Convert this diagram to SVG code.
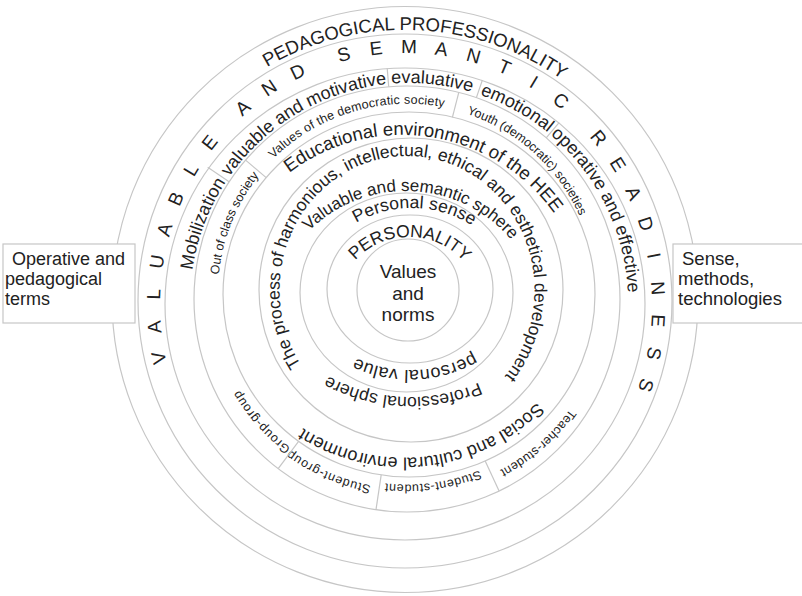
<svg xmlns="http://www.w3.org/2000/svg" width="802" height="596" viewBox="0 0 802 596">
<style>
.c{fill:none;stroke:#c6c6c6;stroke-width:1.2}
.d{stroke:#c6c6c6;stroke-width:1.2}
.t{font-family:"Liberation Sans",Arial,sans-serif;fill:#222}
.s{font-size:12.5px}
.r7{font-size:18px}
.box{fill:#fff;stroke:#c6c6c6;stroke-width:1.2}
</style>
<defs>
<path id="p1" d="M408.06 380.99 A72 72 0 1 1 409.94 237.01 A72 72 0 1 1 408.06 380.99"/>
<path id="p2" d="M409.5 427.97 A110 110 0 1 1 414.5 208.03 A110 110 0 1 1 409.5 427.97"/>
<path id="p3" d="M405.09 114.09 A128 128 0 1 1 414.91 369.91 A128 128 0 1 1 405.09 114.09"/>
<path id="p4" d="M399.98 466.87 A138 138 0 1 1 412.02 191.13 A138 138 0 1 1 399.98 466.87"/>
<path id="p5" d="M417.46 55.16 A171 171 0 1 1 402.54 396.84 A171 171 0 1 1 417.46 55.16"/>
<path id="p6" d="M399.91 423.79 A127 134 0 1 1 414.09 156.21 A127 134 0 1 1 399.91 423.79"/>
<path id="p7" d="M373.71 506.85 A187 187 0 1 1 430.29 137.15 A187 187 0 1 1 373.71 506.85"/>
<path id="p8" d="M383.41 83.53 A187.6 187.6 0 1 1 424.59 456.47 A187.6 187.6 0 1 1 383.41 83.53"/>
<path id="p9" d="M582.24 363.8 A189 189 0 1 1 231.76 222.2 A189 189 0 1 1 582.24 363.8"/>
<path id="p10" d="M461.63 473.93 A189 189 0 1 1 352.37 112.07 A189 189 0 1 1 461.63 473.93"/>
<path id="p11" d="M280.06 433.03 A189 189 0 1 1 533.94 152.97 A189 189 0 1 1 280.06 433.03"/>
<path id="p12" d="M551.92 164.78 A193.5 193.5 0 1 1 262.08 421.22 A193.5 193.5 0 1 1 551.92 164.78"/>
<path id="p13" d="M485.58 113.99 A195.5 195.5 0 1 1 328.42 472.01 A195.5 195.5 0 1 1 485.58 113.99"/>
<path id="p14" d="M381.01 103.27 A191.5 191.5 0 1 1 432.99 482.73 A191.5 191.5 0 1 1 381.01 103.27"/>
<path id="p15" d="M275.52 142.29 A200 200 0 1 1 538.48 443.71 A200 200 0 1 1 275.52 142.29"/>
<path id="p16" d="M613.73 379.77 A219 219 0 1 1 204.27 224.23 A219 219 0 1 1 613.73 379.77"/>
<path id="p17" d="M520.15 490.7 A219 219 0 1 1 297.85 113.3 A219 219 0 1 1 520.15 490.7"/>
<path id="p18" d="M386.11 519.8 A219 219 0 1 1 431.89 84.2 A219 219 0 1 1 386.11 519.8"/>
<path id="p19" d="M302.5 493.36 A219 219 0 1 1 515.5 110.64 A219 219 0 1 1 302.5 493.36"/>
<path id="p20" d="M212.33 398.35 A219 219 0 1 1 605.67 205.65 A219 219 0 1 1 212.33 398.35"/>
<path id="p21" d="M392.27 556.61 A246 252 0 1 1 419.73 53.39 A246 252 0 1 1 392.27 556.61"/>
<path id="p22" d="M393.69 569.76 A270 270 0 1 1 416.31 30.24 A270 270 0 1 1 393.69 569.76"/>
</defs>

<g id="ring9-pedagogical-professionality">
<circle class="c" cx="405" cy="299.5" r="293"/>
<text class="t" font-size="18.5" text-anchor="middle"><textPath href="#p22" startOffset="50%">PEDAGOGICAL PROFESSIONALITY</textPath></text>
</g>
<g id="ring8-readiness">
<circle class="c" cx="405" cy="301" r="267"/>
<text class="t" font-size="19" text-anchor="middle" dx="0 19.33 20.39 19.86 18.81 19.33 20.39 20.39 0 30.05 18.81 18.28 0 29.53 19.33 17.75 17.75 18.81 19.34 23.56 22.5 0 32.5 18.81 19.33 18.81 22.5 22.5 18.81 19.33 19.33"><textPath href="#p21" startOffset="50%">VALUABLE AND SEMANTIC READINESS</textPath></text>
</g>
<g id="ring7-components">
<ellipse class="c" cx="405" cy="304" rx="240" ry="236"/>
<text class="t r7" text-anchor="middle"><textPath href="#p16" startOffset="50%">Mobilization</textPath></text>
<text class="t r7" text-anchor="middle"><textPath href="#p17" startOffset="50%">valuable and motivative</textPath></text>
<text class="t r7" text-anchor="middle"><textPath href="#p18" startOffset="50%">evaluative</textPath></text>
<text class="t r7" text-anchor="middle"><textPath href="#p19" startOffset="50%">emotional</textPath></text>
<text class="t r7" text-anchor="middle"><textPath href="#p20" startOffset="50%">operative and effective</textPath></text>
</g>
<g id="ring6-societies">
<circle class="c" cx="407" cy="299" r="213"/>
<text class="t s" text-anchor="middle"><textPath href="#p9" startOffset="50%">Out of class society</textPath></text>
<text class="t s" text-anchor="middle" letter-spacing="0.2"><textPath href="#p10" startOffset="50%">Values of the democratic society</textPath></text>
<text class="t s" text-anchor="middle"><textPath href="#p11" startOffset="50%">Youth (democratic) societies</textPath></text>
<text class="t s" text-anchor="middle" letter-spacing="0.7"><textPath href="#p12" startOffset="50%">Group-group</textPath></text>
<text class="t s" text-anchor="middle" letter-spacing="0.8"><textPath href="#p13" startOffset="50%">Student-group</textPath></text>
<text class="t s" text-anchor="middle" letter-spacing="0.55"><textPath href="#p14" startOffset="50%">Student-student</textPath></text>
<text class="t s" text-anchor="middle" letter-spacing="0.3"><textPath href="#p15" startOffset="50%">Teacher-student</textPath></text>
</g>
<g id="ring5-environment">
<ellipse class="c" cx="409" cy="294.5" rx="186" ry="182.5"/>
<text class="t" font-size="18.5" text-anchor="middle"><textPath href="#p7" startOffset="50%">Educational environment of the HEE</textPath></text>
<text class="t" font-size="18" text-anchor="middle" letter-spacing="0.1"><textPath href="#p8" startOffset="50%">Social and cultural environment</textPath></text>
</g>
<g id="ring4-sphere">
<circle class="c" cx="411" cy="290" r="152"/>
<text class="t" font-size="17.5" text-anchor="middle"><textPath href="#p6" startOffset="50%">The process of harmonious, intellectual, ethical and esthetical development</textPath></text>
<text class="t" font-size="17" text-anchor="middle"><textPath href="#p4" startOffset="50%">Valuable and semantic sphere</textPath></text>
<text class="t" font-size="17.5" text-anchor="middle" letter-spacing="0.1"><textPath href="#p5" startOffset="50%">Professional sphere</textPath></text>
</g>
<g id="ring3-personal">
<ellipse class="c" cx="406.5" cy="292.5" rx="106.5" ry="99.5"/>
<text class="t" font-size="17.5" text-anchor="middle" letter-spacing="0.1"><textPath href="#p2" startOffset="50%">Personal sense</textPath></text>
<text class="t" font-size="18" text-anchor="middle" letter-spacing="0.4"><textPath href="#p3" startOffset="50%">personal value</textPath></text>
</g>
<g id="ring2-personality">
<ellipse class="c" cx="410" cy="289" rx="83" ry="74"/>
<text class="t" font-size="17.5" text-anchor="middle"><textPath href="#p1" startOffset="50%">PERSONALITY</textPath></text>
</g>
<g id="core-values">
<circle class="c" cx="408" cy="290" r="51"/>
<text class="t" font-size="19" text-anchor="middle"><tspan x="408" y="278">Values</tspan><tspan x="408" y="300">and</tspan><tspan x="408" y="321">norms</tspan></text>
</g>
<g id="connectors">
<line class="d" x1="266.2" y1="177.6" x2="245.6" y2="160.1"/>
<line class="d" x1="452.4" y1="117.3" x2="458.8" y2="92.4"/>
<line class="d" x1="298.4" y1="441.6" x2="278.2" y2="468.6"/>
<line class="d" x1="381.2" y1="474.9" x2="376" y2="509.7"/>
<line class="d" x1="485.2" y1="461.1" x2="499.1" y2="491"/>
<line class="d" x1="229.1" y1="181.8" x2="207.7" y2="167.3"/>
<line class="d" x1="388.7" y1="86.8" x2="387.2" y2="68.3"/>
<line class="d" x1="476.4" y1="97.6" x2="482.4" y2="80"/>
<line class="d" x1="546.2" y1="137.8" x2="559.1" y2="122.7"/>
</g>
<g id="box-left">
<rect class="box" x="3" y="244" width="132" height="79"/>
<text class="t" font-size="18"><tspan x="12" y="265">Operative and</tspan><tspan x="5" y="285">pedagogical</tspan><tspan x="5" y="305">terms</tspan></text>
</g>
<g id="box-right">
<rect class="box" x="673" y="244" width="140" height="79"/>
<text class="t" font-size="18.5"><tspan x="682" y="265">Sense,</tspan><tspan x="678" y="285">methods,</tspan><tspan x="678" y="305">technologies</tspan></text>
</g>
</svg>
